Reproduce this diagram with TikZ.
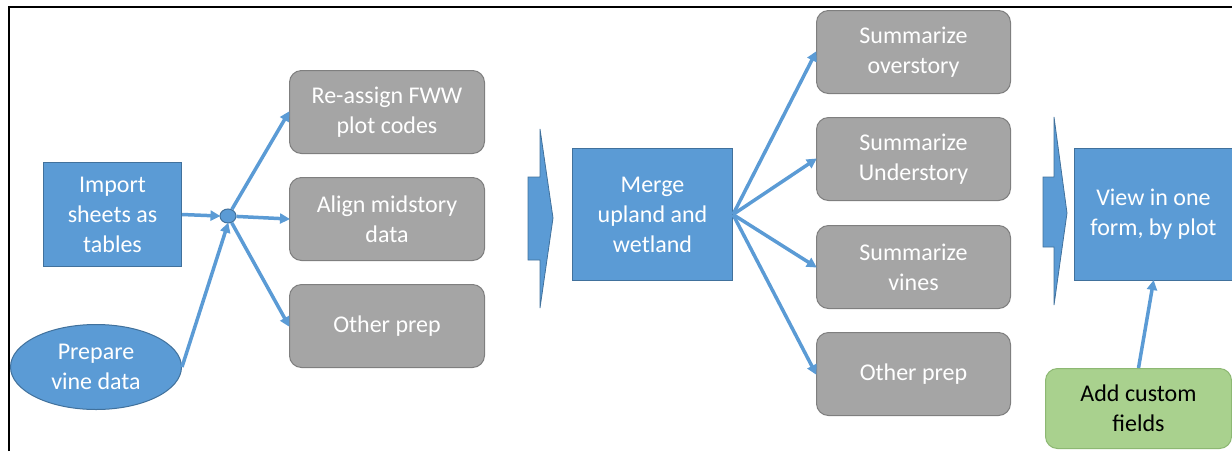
\documentclass[tikz,border=0pt]{standalone}
\usepackage{fontspec}
\setmainfont{Carlito}
\usetikzlibrary{arrows.meta,shapes.geometric}
\definecolor{obl}{HTML}{5B9BD5}
\definecolor{obld}{HTML}{41719C}
\definecolor{ogr}{HTML}{A5A5A5}
\definecolor{ogrd}{HTML}{7F7F7F}
\definecolor{ogn}{HTML}{A9D18E}
\definecolor{ognd}{HTML}{8DB873}
\tikzset{
  box/.style={draw, line width=1pt, inner sep=0pt, align=center, anchor=north west,
    font=\fontsize{24}{30}\selectfont},
  bluebox/.style={box, fill=obl, draw=obld, text=white},
  graybox/.style={box, fill=ogr, draw=ogrd, text=white, rounded corners=12pt,
    minimum width=195pt, minimum height=83pt},
  greenbox/.style={box, fill=ogn, draw=ognd, text=black, rounded corners=12pt},
  conn/.style={draw=obl, line width=3.5pt, -{Triangle[length=10pt,width=10pt]}, shorten >=-1pt},
  blockarrow/.style={fill=obl, draw=obld, line width=0.8pt},
}
\begin{document}
\begin{tikzpicture}[x=1pt,y=-1pt]
\useasboundingbox (0,0) rectangle (1232,451);
% frame
\draw[line width=2pt] (9,451) -- (9,7) -- (1232,7);

% left part
\node[bluebox, minimum width=138pt, minimum height=104pt] (imp) at (43,162) {Import\\sheets as\\tables};
\node[ellipse, draw=obld, fill=obl, line width=1pt, text=white, align=center, inner sep=0pt,
  minimum width=171pt, minimum height=85pt, font=\fontsize{24}{30}\selectfont] (prep) at (96,367) {Prepare\\vine data};
\node[ellipse, draw=obld, fill=obl, line width=1pt, inner sep=0pt, minimum width=16pt, minimum height=14pt] (jn) at (228,216) {};

\node[graybox] (g1) at (289,70) {Re-assign FWW\\plot codes};
\node[graybox] (g2) at (289,177) {Align midstory\\data};
\node[graybox] (g3) at (289,284) {Other prep};

\draw[conn] (imp.east) -- (jn.west);
\draw[conn] (prep.east) -- (jn.south);
\draw[conn] (jn) -- (g1.west);
\draw[conn] (jn) -- (g2.west);
\draw[conn] (jn) -- (g3.west);

% block arrow 1
\draw[blockarrow] (528,177) -- (540,177) -- (540,129) -- (553,218) -- (540,308) -- (540,260) -- (528,260) -- cycle;

% middle
\node[bluebox, minimum width=160pt, minimum height=132pt] (mrg) at (572,148) {Merge\\upland and\\wetland};

\node[graybox, minimum width=194pt] (s1) at (816,10) {Summarize\\overstory};
\node[graybox, minimum width=194pt] (s2) at (816,117) {Summarize\\Understory};
\node[graybox, minimum width=194pt] (s3) at (816,225) {Summarize\\vines};
\node[graybox, minimum width=194pt] (s4) at (816,332) {Other prep};

\draw[conn] (mrg.east) -- (s1.west);
\draw[conn] (mrg.east) -- (s2.west);
\draw[conn] (mrg.east) -- (s3.west);
\draw[conn] (mrg.east) -- (s4.west);

% block arrow 2
\draw[blockarrow] (1043,177) -- (1054,177) -- (1054,117) -- (1067,213) -- (1054,305) -- (1054,247) -- (1043,247) -- cycle;

% right
\node[bluebox, minimum width=158pt, minimum height=132pt] (view) at (1074,148) {View in one\\form, by plot};
\node[greenbox, minimum width=186pt, minimum height=80pt] (add) at (1045,368) {Add custom\\fields};

\draw[conn] (add.north) -- (view.south);
\end{tikzpicture}
\end{document}
